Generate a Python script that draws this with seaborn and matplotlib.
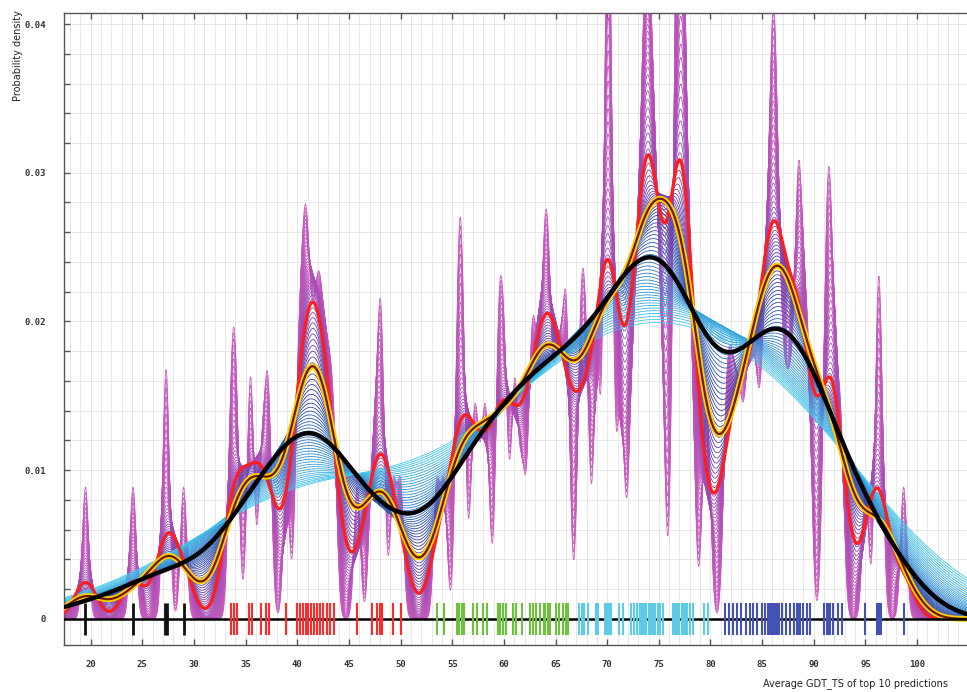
import numpy as np
import pandas as pd
import matplotlib
matplotlib.use("Agg")
import matplotlib.pyplot as plt
import matplotlib.patheffects as pe
from matplotlib.colors import LinearSegmentedColormap
import seaborn as sns

# ---- data: average GDT_TS of top 10 predictions per target, grouped as in the rug ----
black_group = [19.5, 24.1, 27.2, 27.4, 29.0]
red_group = [33.55, 33.85, 34.15, 35.35, 35.6, 36.5, 37.0, 37.3, 38.95, 40.0,
             40.3, 40.6, 40.8, 41.0, 41.3, 41.65, 41.95, 42.2, 42.5,
             42.85, 43.2, 43.6, 45.8, 47.2, 47.75, 48.05, 48.25, 49.3, 50.0]
green_group = [53.5, 54.2, 55.5, 55.65, 55.9, 56.1, 57.0, 57.4, 58.0, 58.4,
               59.4, 59.6, 59.9, 60.2, 60.9, 61.2, 61.8, 62.5, 62.8, 63.1,
               63.5, 63.9, 64.0, 64.3, 64.5, 65.0, 65.3, 65.7, 66.0, 66.2]
cyan_group = [67.3, 67.55, 67.8, 68.1, 68.9, 69.1, 69.8, 69.9, 70.0, 70.1, 70.2,
              70.3, 70.4, 71.1, 71.5, 72.3, 72.6, 72.9, 73.2, 73.4, 73.5, 73.7,
              73.8, 74.0, 74.1, 74.3, 74.4, 74.6, 74.9, 75.1, 75.4, 76.4,
              76.6, 76.7, 76.8, 76.9, 77.0, 77.2, 77.3, 77.4, 77.5, 77.7,
              78.0, 78.3, 79.4, 79.8]
blue_group = [81.45, 81.8, 82.15, 82.55, 82.95, 83.45, 83.8, 84.15, 84.5, 85.0,
              85.3, 85.6, 85.8, 86.0, 86.1, 86.2, 86.4, 86.6, 86.9, 87.3, 87.7,
              88.1, 88.4, 88.55, 88.7, 89.0, 89.3, 89.6, 91.0, 91.3, 91.45, 91.6,
              91.9, 92.3, 92.7, 95.0, 96.1, 96.3, 96.5, 98.7]

groups = [black_group, red_group, green_group, cyan_group, blue_group]
group_colors = ["#111111", "#ff2b2b", "#6cc23a", "#5ccbe3", "#4352b4"]

x_ticks = [20, 25, 30, 35, 40, 45, 50, 55, 60, 65, 70, 75, 80, 85, 90, 95, 100]
y_ticks = [0, 0.01, 0.02, 0.03, 0.04]
y_tick_labels = ["0", "0.01", "0.02", "0.03", "0.04"]

# kernel bandwidths (data units)
thin_bw_min, thin_bw_max, n_thin = 0.30, 9.0, 80
red_bw, gold_bw, black_bw = 1.08, 1.8, 3.6

# ---- figure ----
sns.set_style("white")
plt.rcParams["font.family"] = ["DejaVu Sans"]
W, H = 967, 692
fig = plt.figure(figsize=(W / 100, H / 100), dpi=100)
ax = fig.add_axes([64 / W, 1 - 645 / H, 1 - 64 / W, (645 - 13) / H])

data = np.concatenate([np.asarray(g, float) for g in groups])
df = pd.DataFrame({"gdt": data})
sd = data.std(ddof=1)
scott = len(data) ** -0.2


def adj(h):
    return h / (sd * scott)


cmap = LinearSegmentedColormap.from_list(
    "bw",
    [(0.0, "#cc5ec0"), (0.26, "#b04cb4"), (0.38, "#8a48b4"), (0.5, "#5a40a8"),
     (0.6, "#3040a0"), (0.76, "#2a78cc"), (1.0, "#42c9ec")])

hs = np.geomspace(thin_bw_min, thin_bw_max, n_thin)
for h in hs:
    t = np.log(h / hs[0]) / np.log(hs[-1] / hs[0])
    sns.kdeplot(data=df, x="gdt", bw_adjust=adj(h), color=cmap(t), lw=0.6,
                gridsize=2500, cut=4, ax=ax, zorder=2)

sns.kdeplot(data=df, x="gdt", bw_adjust=adj(red_bw), color="#ff1e1e", lw=2.3,
            gridsize=2500, cut=4, ax=ax, zorder=4)
sns.kdeplot(data=df, x="gdt", bw_adjust=adj(gold_bw), color="#6e1a00", lw=1.6,
            gridsize=2500, cut=4, ax=ax, zorder=5,
            path_effects=[pe.Stroke(linewidth=4.2, foreground="#ffd000"), pe.Normal()])
sns.kdeplot(data=df, x="gdt", bw_adjust=adj(black_bw), color="#000000", lw=3.2,
            gridsize=2500, cut=4, ax=ax, zorder=6)

# rug
ax.axhline(0, color="#000000", lw=1.8, zorder=7)
for g, c in zip(groups, group_colors):
    ax.vlines(g, -0.00108, 0.00108, colors=c, lw=2.0 if c == "#111111" else 1.5, zorder=8)

# axes styling
ax.set_xlim(17.42, 104.83)
ax.set_ylim(-0.00175, 0.04074)
ax.set_xticks(x_ticks)
ax.set_xticklabels([str(v) for v in x_ticks])
ax.set_xticks(np.arange(18, 105, 1), minor=True)
ax.set_yticks(y_ticks)
ax.set_yticklabels(y_tick_labels)
ax.set_yticks(np.arange(0, 0.041, 0.002), minor=True)
ax.grid(which="both", color="#e4e4e4", lw=0.6, zorder=0)
ax.set_axisbelow(True)
ax.set_xlabel("")
ax.set_ylabel("")

for s in ["left", "bottom", "top"]:
    ax.spines[s].set_color("#555555")
    ax.spines[s].set_linewidth(1.0)
ax.spines["right"].set_visible(False)

ax.tick_params(axis="x", which="major", direction="in", length=4, width=1, color="#555555",
               top=True, bottom=True, pad=11)
ax.tick_params(axis="x", which="minor", length=0)
ax.tick_params(axis="y", which="both", direction="in", length=4, width=1, color="#555555",
               left=True, pad=13)
for lab in ax.get_xticklabels() + ax.get_yticklabels():
    lab.set_fontfamily("DejaVu Sans Mono")
    lab.set_fontweight("bold")
    lab.set_fontsize(6.5)
    lab.set_color("#333333")

fig.text(18 / W, 1 - 10 / H, "Probability density", rotation=90, ha="center", va="top",
         fontsize=7, color="#222222")
fig.text(948 / W, 1 - 684 / H, "Average GDT_TS of top 10 predictions", ha="right",
         va="center", fontsize=7, color="#222222")

fig.savefig("out.png", dpi=100)
